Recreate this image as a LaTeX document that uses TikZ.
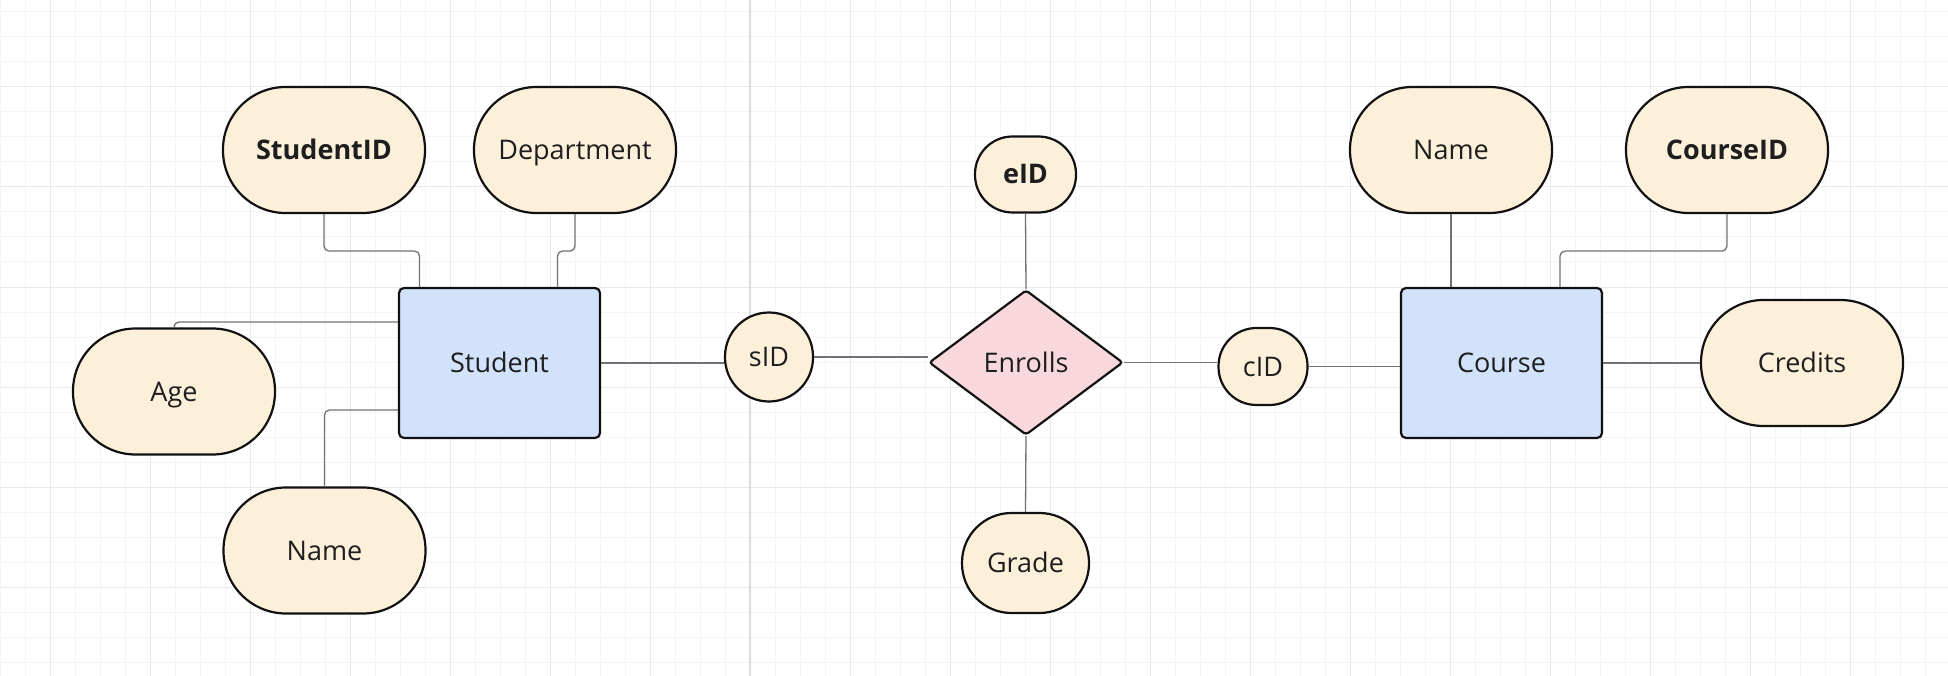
\documentclass[tikz,border=0pt]{standalone}
\usepackage{fontspec}
\setmainfont{Open Sans}
\usepackage{xcolor}
\definecolor{ColAttr}{RGB}{252,240,219}
\definecolor{ColEnt}{RGB}{210,226,250}
\definecolor{ColRel}{RGB}{248,216,220}
\definecolor{ColLine}{RGB}{17,17,17}
\definecolor{ColEdge}{RGB}{110,115,121}
\definecolor{ColText}{RGB}{30,30,30}
\definecolor{ColGrid}{RGB}{244,244,244}
\definecolor{ColGridM}{RGB}{233,233,233}
\usepackage{tikz}
\usetikzlibrary{shapes.geometric}
\tikzstyle{Attr}=[draw=ColLine,fill=ColAttr,line width=2.2pt,text=ColText,
font=\fontsize{27}{32}\selectfont,inner sep=0pt,text height=19pt,text depth=0pt,
minimum width=202pt,minimum height=126pt,rounded corners=62.5pt]
\tikzstyle{AttrKey}=[Attr,font=\fontsize{27}{32}\selectfont\bfseries]
\tikzstyle{Entity}=[draw=ColLine,fill=ColEnt,line width=2.2pt,text=ColText,
font=\fontsize{27}{32}\selectfont,inner sep=0pt,text height=19pt,text depth=0pt,
minimum width=201pt,minimum height=150pt,rounded corners=5pt]
\tikzstyle{Rel}=[diamond,aspect=1.34,draw=ColLine,fill=ColRel,line width=2.2pt,
text=ColText,font=\fontsize{27}{32}\selectfont,inner sep=0pt,text height=19pt,
text depth=0pt,minimum width=194pt,minimum height=145pt,rounded corners=3pt]
\tikzstyle{Edge}=[draw=ColEdge,line width=1.3pt,rounded corners=5pt]
\tikzstyle{Grid}=[draw=ColGrid,line width=1pt]
\tikzstyle{GridM}=[draw=ColGridM,line width=1pt]

\begin{document}
\begin{tikzpicture}[x=1pt,y=-1pt]
    \useasboundingbox (0,0) rectangle (1948,676);
    \fill[white] (0,0) rectangle (1948,676);
    % grid
    \foreach \x in {0,25,...,1950} \draw[Grid] (\x,0) -- (\x,676);
    \foreach \y in {12,37,...,676} \draw[Grid] (0,\y) -- (1948,\y);
    \foreach \x in {50,150,...,1950} \draw[GridM] (\x,0) -- (\x,676);
    \foreach \y in {87,187,...,676} \draw[GridM] (0,\y) -- (1948,\y);
    \draw[GridM,draw=black!14,line width=1.8pt] (750,0) -- (750,676);
    % entities and relation
    \node[Entity](Student)at(499.5,363){Student};
    \node[Entity](Course)at(1501.5,363){Course};
    \node[Rel](Enrolls)at(1026,362.5){Enrolls};
    % attributes
    \node[AttrKey](StudentID)at(324,150){StudentID};
    \node[Attr](Department)at(575,150){Department};
    \node[Attr](Age)at(174,391.5){Age};
    \node[Attr](SName)at(324.5,550.5){Name};
    \node[Attr,minimum width=88pt,minimum height=89pt,rounded corners=44pt](sID)at(769,357){sID};
    \node[AttrKey,minimum width=101pt,minimum height=76pt,rounded corners=37.5pt](eID)at(1025.5,174.5){eID};
    \node[Attr,minimum width=127pt,minimum height=100pt,rounded corners=49.5pt](Grade)at(1025.5,563){Grade};
    \node[Attr,minimum width=89pt,minimum height=77pt,rounded corners=38pt](cID)at(1263,366.5){cID};
    \node[Attr](CName)at(1451,150){Name};
    \node[AttrKey](CourseID)at(1727,150){CourseID};
    \node[Attr](Credits)at(1802,363){Credits};
    % connectors
    \draw[Edge](StudentID.south)--++(0,37)-|([xshift=-80pt]Student.north);
    \draw[Edge](Department.south)--++(0,37)-|([xshift=58pt]Student.north);
    \draw[Edge]([yshift=41pt]Student.west)-|(Age.north);
    \draw[Edge]([yshift=-47pt]Student.west)-|(SName.north);
    \draw[Edge](Student.east)--(Student.east-|sID.west);
    \draw[Edge](sID.east)--(sID.east-|Enrolls.west);
    \draw[Edge](eID.south)--(Enrolls.north);
    \draw[Edge](Enrolls.south)--(Grade.north);
    \draw[Edge](Enrolls.east)--(Enrolls.east-|cID.west);
    \draw[Edge](cID.east)--(cID.east-|Course.west);
    \draw[Edge](CName.south)--(CName.south|-Course.north);
    \draw[Edge](CourseID.south)--++(0,37)-|([xshift=58.5pt]Course.north);
    \draw[Edge](Course.east)--(Credits.west);
\end{tikzpicture}
\end{document}
